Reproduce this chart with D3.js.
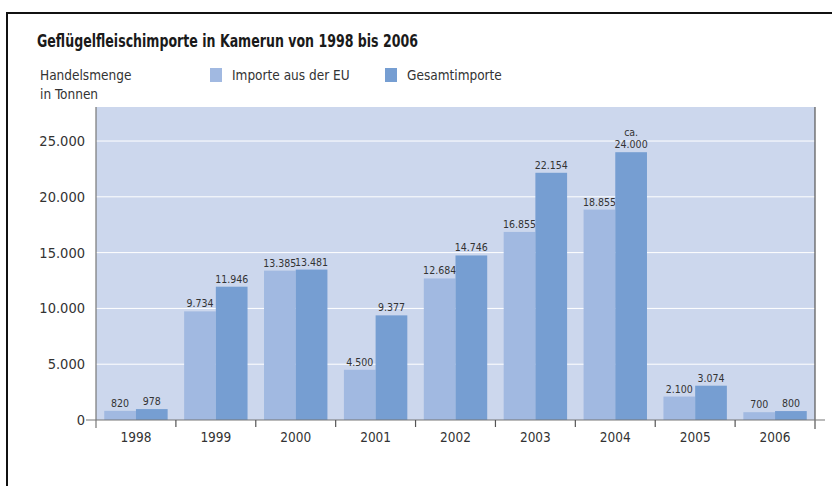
<!DOCTYPE html>
<html>
<head>
<meta charset="utf-8">
<script src="https://cdn.jsdelivr.net/npm/d3@7"></script>
<style>
  body { margin: 0; background: #fff; }
  svg text { font-family: "DejaVu Sans Condensed", "Liberation Sans Narrow", sans-serif; }
</style>
</head>
<body>
<svg id="chart" width="832" height="486"></svg>
<script>
// data
const years = ['1998', '1999', '2000', '2001', '2002', '2003', '2004', '2005', '2006'];
const euImports = [820, 9734, 13385, 4500, 12684, 16855, 18855, 2100, 700];
const totalImports = [978, 11946, 13481, 9377, 14746, 22154, 24000, 3074, 800];
const totalPrefix = ['', '', '', '', '', '', 'ca.', '', ''];
const yTicks = [0, 5000, 10000, 15000, 20000, 25000];
const seriesNames = ['Importe aus der EU', 'Gesamtimporte'];
const seriesColors = ['#a1b9e1', '#769ed2'];

const svg = d3.select('#chart');
const fmt = d => d3.format(',')(d).replace(/,/g, '.');

// outer frame
svg.append('path')
    .attr('d', 'M7,486 V13 H832')
    .attr('fill', 'none')
    .attr('stroke', '#111')
    .attr('stroke-width', 2);

svg.append('text')
    .attr('x', 37).attr('y', 47)
    .attr('font-size', 17).attr('font-weight', 'bold')
    .attr('fill', '#1a1a1a')
    .attr('textLength', 381)
    .attr('lengthAdjust', 'spacingAndGlyphs')
    .text('Geflügelfleischimporte in Kamerun von 1998 bis 2006');

svg.append('text')
    .attr('x', 40).attr('y', 80)
    .attr('font-size', 13.5).attr('fill', '#333')
    .selectAll('tspan')
    .data(['Handelsmenge', 'in Tonnen'])
    .join('tspan')
    .attr('x', 40)
    .attr('dy', (d, i) => i ? 19 : 0)
    .text(d => d);

// legend
const legend = svg.append('g').attr('transform', 'translate(210,68)');
const legendX = [0, 175];
seriesNames.forEach((name, i) => {
    const g = legend.append('g').attr('transform', `translate(${legendX[i]},0)`);
    g.append('rect').attr('width', 12).attr('height', 14).attr('fill', seriesColors[i]);
    g.append('text').attr('x', 22).attr('y', 12)
        .attr('font-size', 13.5).attr('fill', '#333').text(name);
});

const margin = { left: 96, right: 815, top: 107, bottom: 420 };

const x = d3.scaleBand()
    .domain(years)
    .range([margin.left, margin.right])
    .paddingInner(0)
    .paddingOuter(0);

const inner = d3.scaleBand()
    .domain([0, 1])
    .range([0, x.bandwidth()])
    .paddingOuter(0.26)
    .paddingInner(0);

const y = d3.scaleLinear()
    .domain([0, 28050])
    .range([margin.bottom, margin.top]);

// plot background
svg.append('rect')
    .attr('x', margin.left).attr('y', margin.top)
    .attr('width', margin.right - margin.left)
    .attr('height', margin.bottom - margin.top)
    .attr('fill', '#ccd7ed');

// gridlines
svg.append('g')
    .selectAll('line')
    .data(yTicks.filter(d => d > 0))
    .join('line')
    .attr('x1', margin.left).attr('x2', margin.right)
    .attr('y1', d => y(d)).attr('y2', d => y(d))
    .attr('stroke', '#fff').attr('stroke-width', 1);

// bars
const series = [euImports, totalImports];
const groups = svg.append('g')
    .selectAll('g')
    .data(years)
    .join('g')
    .attr('transform', d => `translate(${x(d)},0)`);

series.forEach((vals, si) => {
    groups.append('rect')
        .attr('x', inner(si))
        .attr('width', inner.bandwidth())
        .attr('y', (d, i) => y(vals[i]))
        .attr('height', (d, i) => y(0) - y(vals[i]))
        .attr('fill', seriesColors[si]);

    groups.append('text')
        .attr('x', inner(si) + inner.bandwidth() / 2)
        .attr('y', (d, i) => y(vals[i]) - 4)
        .attr('text-anchor', 'middle')
        .attr('font-size', 10.5)
        .attr('fill', '#333')
        .text((d, i) => fmt(vals[i]));
});

groups.append('text')
    .attr('x', inner(1) + inner.bandwidth() / 2)
    .attr('y', (d, i) => y(totalImports[i]) - 16)
    .attr('text-anchor', 'middle')
    .attr('font-size', 10.5)
    .attr('fill', '#333')
    .text((d, i) => totalPrefix[i]);

// y axis labels
svg.append('g')
    .selectAll('text')
    .data(yTicks)
    .join('text')
    .attr('x', 85)
    .attr('y', d => y(d) + 5)
    .attr('text-anchor', 'end')
    .attr('font-size', 14.5)
    .attr('fill', '#333')
    .text(fmt);

// axis lines
const axisColor = '#777';
svg.append('line')
    .attr('x1', margin.left).attr('x2', margin.left)
    .attr('y1', margin.top).attr('y2', margin.bottom + 8)
    .attr('stroke', axisColor).attr('stroke-width', 1.2);
svg.append('line')
    .attr('x1', margin.right).attr('x2', margin.right)
    .attr('y1', margin.top).attr('y2', margin.bottom + 9)
    .attr('stroke', '#555').attr('stroke-width', 1.2);

const xAxis = svg.append('g')
    .attr('transform', `translate(0,${margin.bottom})`);
xAxis.append('line')
    .attr('x1', 86).attr('x2', 825)
    .attr('stroke', axisColor).attr('stroke-width', 1.2);
xAxis.selectAll('line.tick')
    .data(years.slice(1))
    .join('line')
    .attr('class', 'tick')
    .attr('x1', d => x(d)).attr('x2', d => x(d))
    .attr('y1', 0).attr('y2', 7)
    .attr('stroke', '#555').attr('stroke-width', 1.2);
xAxis.selectAll('text')
    .data(years)
    .join('text')
    .attr('x', d => x(d) + x.bandwidth() / 2)
    .attr('y', 22)
    .attr('text-anchor', 'middle')
    .attr('font-size', 13.5)
    .attr('fill', '#333')
    .text(d => d);
</script>
</body>
</html>
